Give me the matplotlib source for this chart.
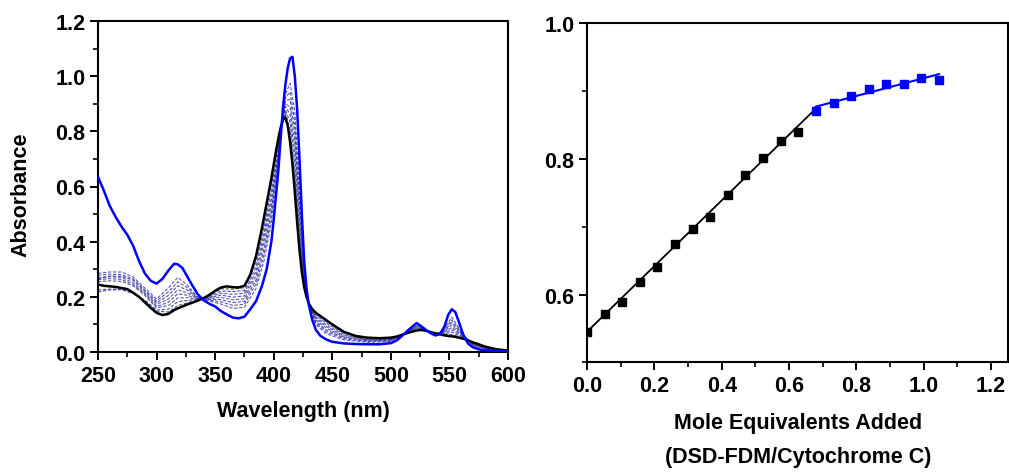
import numpy as np
import matplotlib.pyplot as plt
from matplotlib.ticker import MultipleLocator

plt.rcParams['font.family'] = ['Liberation Sans', 'DejaVu Sans']
plt.rcParams['font.weight'] = 'bold'

# ---------- UV-Vis titration spectra ----------
wl = [250, 255, 260, 265, 270, 275, 280, 285, 290, 295, 300, 305, 310, 315, 318,
      322, 326, 330, 335, 340, 345, 350, 355, 360, 365, 370, 375, 380, 385, 390,
      394, 398, 400, 402, 404, 406, 408, 410, 412, 414, 416, 418, 420, 422, 424,
      426, 428, 430, 433, 436, 440, 445, 450, 460, 470, 480, 490, 500, 505, 510,
      515, 522, 526, 530, 534, 538, 542, 546, 549, 552, 555, 558, 562, 566, 570,
      575, 580, 590, 600]

# cytochrome c before addition
abs_start = [0.245, 0.240, 0.238, 0.236, 0.232, 0.228, 0.215, 0.200, 0.180, 0.160,
             0.142, 0.134, 0.138, 0.152, 0.158, 0.165, 0.172, 0.178, 0.186, 0.195,
             0.207, 0.222, 0.234, 0.238, 0.235, 0.234, 0.240, 0.280, 0.350, 0.450,
             0.540, 0.630, 0.680, 0.730, 0.775, 0.815, 0.842, 0.850, 0.820, 0.760,
             0.680, 0.580, 0.470, 0.370, 0.290, 0.235, 0.200, 0.175, 0.155, 0.142,
             0.130, 0.115, 0.100, 0.073, 0.058, 0.052, 0.050, 0.052, 0.056, 0.063,
             0.070, 0.078, 0.080, 0.077, 0.072, 0.068, 0.064, 0.060, 0.058, 0.057,
             0.055, 0.052, 0.048, 0.042, 0.035, 0.028, 0.020, 0.010, 0.005]

# after the last addition
abs_end = [0.635, 0.585, 0.530, 0.490, 0.455, 0.425, 0.385, 0.330, 0.285, 0.258,
           0.248, 0.265, 0.295, 0.320, 0.318, 0.305, 0.275, 0.245, 0.210, 0.188,
           0.175, 0.165, 0.148, 0.136, 0.125, 0.122, 0.128, 0.155, 0.185, 0.240,
           0.300, 0.400, 0.480, 0.570, 0.660, 0.780, 0.890, 0.970, 1.030, 1.065,
           1.070, 1.000, 0.880, 0.700, 0.500, 0.330, 0.230, 0.170, 0.115, 0.080,
           0.058, 0.045, 0.037, 0.031, 0.029, 0.028, 0.028, 0.032, 0.042, 0.060,
           0.080, 0.105, 0.093, 0.080, 0.068, 0.060, 0.065, 0.095, 0.135, 0.155,
           0.145, 0.110, 0.060, 0.030, 0.017, 0.010, 0.006, 0.004, 0.003]

# intermediate additions (dashed)
wl_mid = [250, 260, 270, 280, 290, 300, 310, 318, 326, 335, 345, 355, 365, 375, 385,
          392, 398, 402, 406, 410, 414, 418, 422, 426, 430, 436, 445, 460, 480, 500,
          510, 522, 530, 538, 545, 552, 560, 570, 585, 600]
abs_mid = [
    [.225, .228, .228, .215, .185, .148, .145, .168, .178, .187, .205, .229, .228, .233, .340,
     .477, .616, .720, .813, .857, .778, .605, .390, .241, .174, .138, .111, .070, .051, .051,
     .062, .080, .077, .068, .063, .063, .052, .034, .014, .004],
    [.218, .225, .226, .212, .188, .152, .155, .182, .187, .189, .202, .221, .219, .223, .325,
     .457, .596, .706, .810, .868, .806, .643, .420, .249, .174, .133, .105, .067, .048, .049,
     .062, .082, .077, .067, .065, .072, .055, .032, .013, .004],
    [.255, .258, .256, .240, .205, .160, .168, .196, .197, .190, .199, .213, .209, .213, .309,
     .437, .575, .692, .807, .879, .833, .681, .449, .258, .174, .127, .098, .063, .046, .047,
     .062, .084, .078, .066, .067, .081, .058, .031, .012, .004],
    [.262, .266, .263, .245, .210, .165, .180, .211, .206, .192, .196, .206, .199, .203, .294,
     .417, .554, .677, .803, .890, .861, .719, .479, .266, .174, .122, .092, .059, .044, .045,
     .062, .087, .078, .065, .070, .089, .062, .029, .011, .004],
    [.270, .273, .270, .252, .215, .172, .192, .225, .215, .194, .194, .198, .189, .193, .279,
     .398, .533, .663, .800, .900, .888, .756, .509, .275, .174, .116, .086, .055, .042, .044,
     .062, .089, .078, .065, .072, .098, .065, .027, .010, .004],
    [.265, .275, .275, .260, .220, .178, .205, .240, .225, .196, .191, .190, .179, .183, .263,
     .378, .513, .648, .797, .911, .916, .794, .538, .283, .174, .110, .079, .052, .040, .042,
     .062, .092, .079, .064, .075, .107, .068, .026, .010, .004],
    [.278, .282, .280, .265, .225, .185, .218, .254, .234, .197, .188, .182, .169, .173, .248,
     .358, .492, .634, .794, .922, .943, .832, .568, .292, .174, .105, .073, .048, .038, .040,
     .062, .094, .079, .063, .077, .116, .071, .024, .009, .004],
    [.285, .290, .290, .272, .232, .192, .232, .270, .244, .199, .185, .174, .158, .162, .231,
     .336, .469, .618, .790, .934, .974, .874, .601, .302, .174, .099, .066, .044, .035, .038,
     .062, .097, .079, .062, .080, .126, .075, .022, .008, .004],
]
mid_colors = ['#33335a', '#2a2ac8', '#44446a', '#3030d0', '#4a4a70', '#2a2acd', '#404060', '#3838d5']

# ---------- absorbance vs. mole equivalents ----------
equiv = [0.000, 0.052, 0.105, 0.157, 0.209, 0.261, 0.314, 0.366, 0.418, 0.470,
         0.523, 0.575, 0.627, 0.679, 0.732, 0.784, 0.836, 0.888, 0.941, 0.993, 1.045]
absorb = [0.545, 0.571, 0.589, 0.619, 0.641, 0.674, 0.696, 0.714, 0.747, 0.776,
          0.801, 0.826, 0.839, 0.870, 0.882, 0.893, 0.903, 0.910, 0.910, 0.919, 0.916]
n_first = 13  # points before the break
fit1_x, fit1_y = [0.0, 0.679], [0.545, 0.874]
fit2_x, fit2_y = [0.679, 1.045], [0.877, 0.925]

fig = plt.figure(figsize=(10.09, 4.77), dpi=100)
W, H = 1009, 477
ax1 = fig.add_axes([98 / W, 1 - 353 / H, 410 / W, 331 / H])
ax2 = fig.add_axes([587 / W, 1 - 363.3 / H, 421 / W, 339 / H])

for curve, col in zip(abs_mid, mid_colors):
    ax1.plot(wl_mid, curve, color=col, lw=0.8, ls=(0, (3, 1.5)), alpha=0.85, zorder=2)
ax1.plot(wl, abs_start, color='black', lw=1.8, zorder=3)
ax1.plot(wl, abs_end, color='#0000ff', lw=1.8, zorder=4)

ax1.set_xlim(250, 600)
ax1.set_ylim(0, 1.2)
ax1.xaxis.set_major_locator(MultipleLocator(50))
ax1.xaxis.set_minor_locator(MultipleLocator(25))
ax1.yaxis.set_minor_locator(MultipleLocator(0.1))
ax1.set_yticks(np.arange(0, 1.21, 0.2))
ax1.set_yticklabels([f'{v:.1f}' for v in np.arange(0, 1.21, 0.2)])

ax2.plot(fit1_x, fit1_y, color='black', lw=1.3, zorder=2)
ax2.plot(fit2_x, fit2_y, color='#0000ff', lw=1.5, zorder=2)
ax2.plot(equiv[:n_first], absorb[:n_first], 's', color='black', ms=5.7, zorder=3)
ax2.plot(equiv[n_first:], absorb[n_first:], 's', color='#0000ff', ms=5.7, zorder=3)
ax2.set_xlim(0, 1.25)
ax2.set_ylim(0.5, 1.0)
ax2.xaxis.set_minor_locator(MultipleLocator(0.1))
ax2.set_yticks([0.6, 0.8, 1.0])
ax2.yaxis.set_minor_locator(MultipleLocator(0.1))
ax2.set_xticks(np.arange(0, 1.21, 0.2))
ax2.set_xticklabels([f'{v:.1f}' for v in np.arange(0, 1.21, 0.2)])

for ax in (ax1, ax2):
    for s in ax.spines.values():
        s.set_linewidth(1.5)
    ax.tick_params(which='major', direction='out', length=6, width=1.4,
                   labelsize=15.5, pad=3, top=False, right=False)
    ax.tick_params(which='minor', direction='out', length=3.5, width=1.2,
                   top=False, right=False)
    for lab in ax.get_xticklabels() + ax.get_yticklabels():
        lab.set_fontweight('bold')

fig.text(21 / W, 1 - 195 / H, 'Absorbance', rotation=90, ha='center', va='center',
         fontsize=15.5, fontweight='bold')
fig.text(303 / W, 1 - 411 / H, 'Wavelength (nm)', ha='center', va='center',
         fontsize=15.5, fontweight='bold')
fig.text(798 / W, 1 - 424 / H, 'Mole Equivalents Added', ha='center', va='center',
         fontsize=15.5, fontweight='bold')
fig.text(798 / W, 1 - 458 / H, '(DSD-FDM/Cytochrome C)', ha='center', va='center',
         fontsize=15.5, fontweight='bold')

fig.savefig('out.png', dpi=100)
